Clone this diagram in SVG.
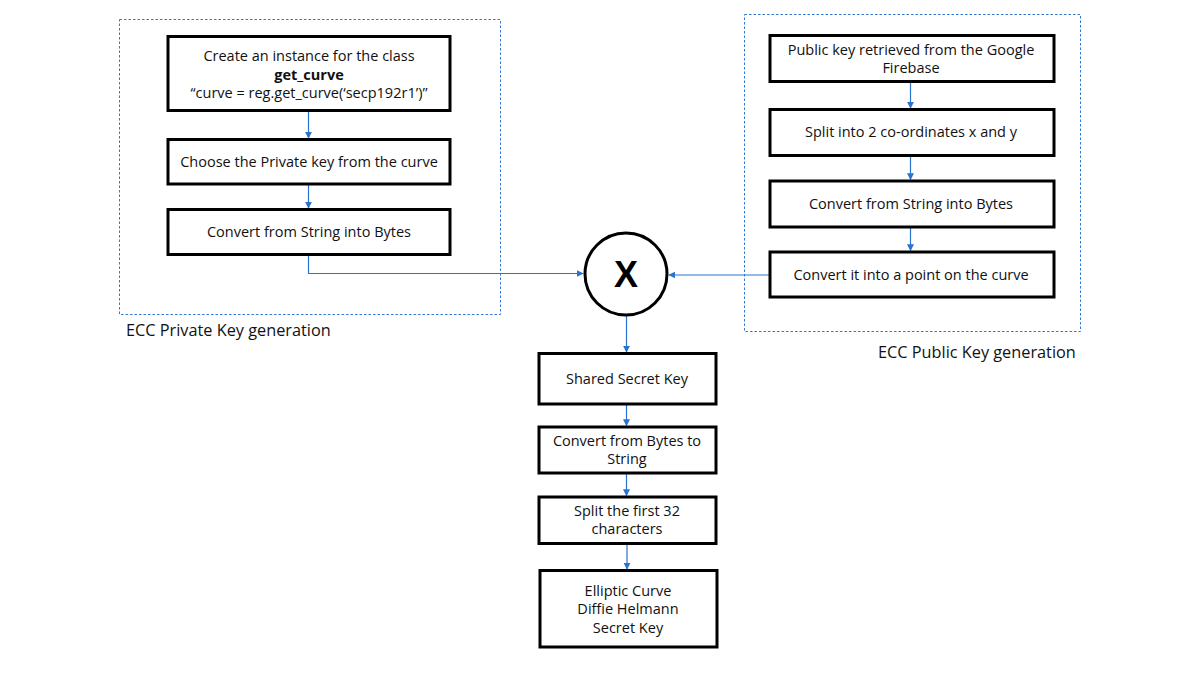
<svg xmlns="http://www.w3.org/2000/svg" width="1200" height="675" viewBox="0 0 1200 675">
<defs>
<style>
.box{fill:#fff;stroke:#000;stroke-width:3}
.grp{fill:none;stroke:#2f77d0;stroke-width:1;stroke-dasharray:2.5 2}
.t{font-family:"Open Sans","Liberation Sans",sans-serif;font-size:14.5px;fill:#111;text-anchor:middle}
.lbl{font-family:"Open Sans","Liberation Sans",sans-serif;font-size:16.3px;fill:#111}
.c{fill:none;stroke:#2a73cf;stroke-width:1.2;marker-end:url(#ah)}
</style>
<marker id="ah" viewBox="0 0 10 10" refX="9" refY="5" markerWidth="7" markerHeight="7" markerUnits="userSpaceOnUse" orient="auto">
<path d="M0,0 L10,5 L0,10 z" fill="#2a73cf"/>
</marker>
</defs>
<rect width="1200" height="675" fill="#fff"/>

<g id="private-group">
<rect class="grp" x="119.5" y="19.5" width="381" height="295"/>
<text class="lbl" x="126" y="336">ECC Private Key generation</text>
</g>
<g id="public-group">
<rect class="grp" x="744.5" y="14.5" width="336" height="317"/>
<text class="lbl" x="878" y="358">ECC Public Key generation</text>
</g>

<g id="connectors">
<path class="c" d="M308.5,111 V138"/>
<path class="c" d="M308.5,184 V208"/>
<path class="c" d="M308.5,255 V273.5 H583"/>
<path class="c" d="M910.5,82 V108"/>
<path class="c" d="M910.5,156 V179.5"/>
<path class="c" d="M910.5,227 V250.5"/>
<path class="c" d="M769,275 H669"/>
<path class="c" d="M626.5,316 V352"/>
<path class="c" d="M626.5,404 V425.5"/>
<path class="c" d="M626.5,473.5 V495.5"/>
<path class="c" d="M627,544 V569"/>
</g>

<g id="n1">
<rect class="box" x="168" y="36.5" width="282" height="74"/>
<text class="t" x="309" y="61">Create an instance for the class</text>
<text class="t" x="309" y="79.5" font-weight="bold">get_curve</text>
<text class="t" x="309" y="98">“curve = reg.get_curve(‘secp192r1’)”</text>
</g>
<g id="n2">
<rect class="box" x="168" y="139.5" width="282" height="44.5"/>
<text class="t" x="309" y="167">Choose the Private key from the curve</text>
</g>
<g id="n3">
<rect class="box" x="168" y="209.5" width="282" height="45"/>
<text class="t" x="309" y="237">Convert from String into Bytes</text>
</g>

<g id="p1">
<rect class="box" x="770" y="35.5" width="284" height="46"/>
<text class="t" x="911" y="55">Public key retrieved from the Google</text>
<text class="t" x="911" y="73">Firebase</text>
</g>
<g id="p2">
<rect class="box" x="770" y="109.5" width="284" height="46"/>
<text class="t" x="911" y="137">Split into 2 co-ordinates x and y</text>
</g>
<g id="p3">
<rect class="box" x="770" y="181" width="284" height="46"/>
<text class="t" x="911" y="209">Convert from String into Bytes</text>
</g>
<g id="p4">
<rect class="box" x="770" y="252" width="284" height="45"/>
<text class="t" x="911" y="280">Convert it into a point on the curve</text>
</g>

<g id="multiply">
<circle cx="626" cy="274" r="41" fill="#fff" stroke="#000" stroke-width="3"/>
<text x="626" y="287" font-family="'Liberation Sans',Arial,sans-serif" font-size="36" font-weight="bold" text-anchor="middle" fill="#000">X</text>
</g>

<g id="s1">
<rect class="box" x="539" y="353.5" width="177" height="50.5"/>
<text class="t" x="627" y="384">Shared Secret Key</text>
</g>
<g id="s2">
<rect class="box" x="539" y="427" width="177" height="46"/>
<text class="t" x="627" y="446">Convert from Bytes to</text>
<text class="t" x="627" y="464">String</text>
</g>
<g id="s3">
<rect class="box" x="539" y="497" width="177" height="46.5"/>
<text class="t" x="627" y="516">Split the first 32</text>
<text class="t" x="627" y="534">characters</text>
</g>
<g id="s4">
<rect class="box" x="540" y="570.5" width="177" height="76.5"/>
<text class="t" x="628" y="596">Elliptic Curve</text>
<text class="t" x="628" y="614">Diffie Helmann</text>
<text class="t" x="628" y="633">Secret Key</text>
</g>
</svg>
